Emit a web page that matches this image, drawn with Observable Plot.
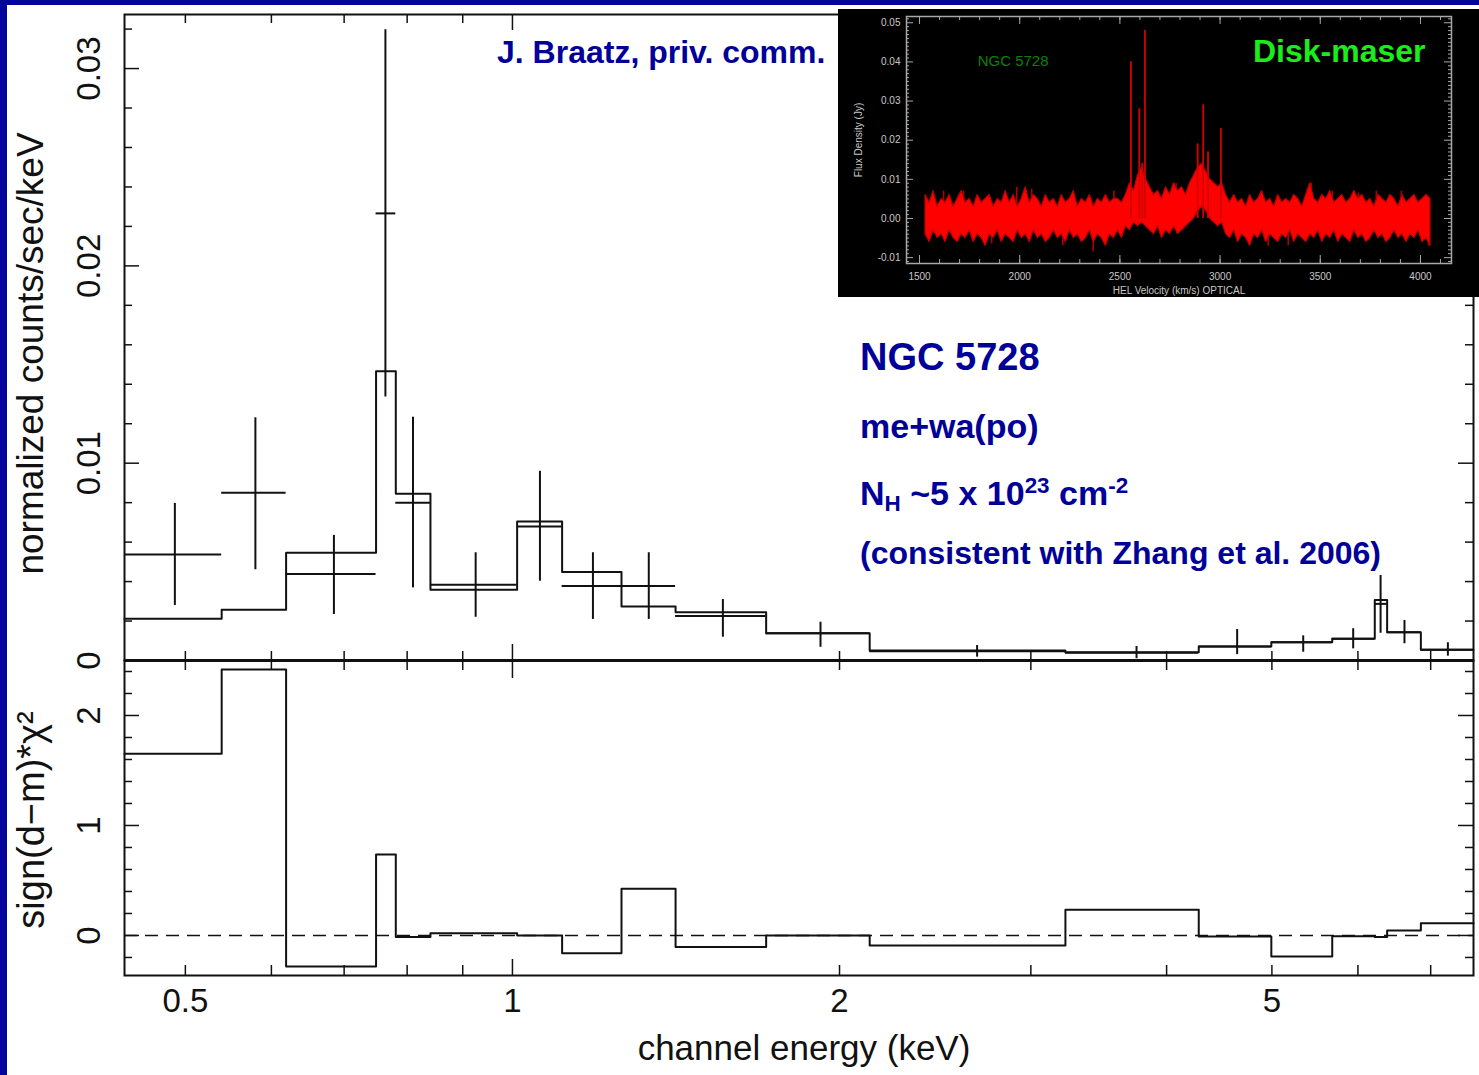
<!DOCTYPE html>
<html><head><meta charset="utf-8">
<script src="https://cdn.jsdelivr.net/npm/d3@7"></script>
<script src="https://cdn.jsdelivr.net/npm/@observablehq/plot@0.6"></script>
<style>
body{margin:0;background:#fff;}
#root{position:relative;width:1479px;height:1075px;overflow:hidden;background:#fff;font-family:"Liberation Sans",Arial,sans-serif;}
#root svg{position:absolute;left:0;top:0;}
#root svg.inset{left:838px;top:9px;}
.ann{position:absolute;color:#000099;font-weight:bold;white-space:nowrap;line-height:1;font-family:"Liberation Sans",Arial,sans-serif;}
.ann sub,.ann sup{font-size:0.66em;line-height:0;}
.ann sub{vertical-align:-0.28em;}
.ann sup{vertical-align:0.52em;}
.strip{position:absolute;background:#05059b;}
</style></head><body><div id="root"></div>
<script>
// ---------- X-ray spectrum data (channel energy in keV) ----------
const binEdges = [0.4395, 0.540, 0.619, 0.749, 0.781, 0.8405, 1.010, 1.111, 1.260, 1.413, 1.712, 2.132, 3.228, 4.282, 4.994, 5.682, 6.218, 6.383, 6.856, 7.665];
const dataE    = [0.489, 0.580, 0.685, 0.764, 0.810, 0.925, 1.060, 1.186, 1.335, 1.562, 1.921, 2.677, 3.753, 4.645, 5.343, 5.940, 6.295, 6.622, 7.26];
const dataRate = [0.00537, 0.0085, 0.00439, 0.02266, 0.00799, 0.00384, 0.00679, 0.00377, 0.00377, 0.00225, 0.00138, 0.00047, 0.00039, 0.00071, 0.00093, 0.0011, 0.00287, 0.00143, 0.00054];
const errLow   = [0.00279, 0.0046, 0.00233, 0.01335, 0.00368, 0.00219, 0.00402, 0.00208, 0.00208, 0.00118, 0.00067, 0.00017, 0.00009, 0.0003, 0.00042, 0.00059, 0.00138, 0.00085, 0.00022];
const errHigh  = [0.00796, 0.0123, 0.00634, 0.03197, 0.01233, 0.00546, 0.00959, 0.00546, 0.00546, 0.00309, 0.00194, 0.00076, 0.00071, 0.00157, 0.00125, 0.00161, 0.00431, 0.00203, 0.0009];
const modelRate = [0.00211, 0.00257, 0.00546, 0.01466, 0.00845, 0.00358, 0.00705, 0.00448, 0.00274, 0.00245, 0.00138, 0.00051, 0.00042, 0.00071, 0.00093, 0.0011, 0.00307, 0.00143, 0.00054];
const residual  = [1.652, 2.418, -0.282, 0.736, -0.015, 0.021, 0.0, -0.161, 0.424, -0.106, 0.0, -0.091, 0.233, -0.01, -0.191, -0.006, -0.015, 0.045, 0.112];

// axis ticks / labels
const xTicks = [0.5, 0.6, 0.7, 0.8, 0.9, 1, 2, 3, 4, 5, 6, 7];
const xMajorTicks = [1];
const xLabelVals = [0.5, 1, 2, 5];
const xLabels = ["0.5", "1", "2", "5"];
const yTopMinor = [0.002, 0.004, 0.006, 0.008, 0.012, 0.014, 0.016, 0.018, 0.022, 0.024, 0.026, 0.028, 0.032];
const yTopMajor = [0, 0.01, 0.02, 0.03];
const yTopLabels = ["0", "0.01", "0.02", "0.03"];
const yBotMinor = [-0.2, 0.2, 0.4, 0.6, 0.8, 1.2, 1.4, 1.6, 1.8, 2.2, 2.4];
const yBotMajor = [0, 1, 2];
const yBotLabels = ["0", "1", "2"];

// ---------- inset: water maser spectrum (velocity km/s, flux Jy) ----------
const specV = [1530,1550,1570,1590,1610,1630,1650,1670,1690,1710,1730,1750,1770,1790,1810,1830,1850,1870,1890,1910,1930,1950,1970,1990,2010,2030,2050,2070,2090,2110,2130,2150,2170,2190,2210,2230,2250,2270,2290,2310,2330,2350,2370,2390,2410,2430,2450,2470,
  2490,2510,2530,2550,2570,2590,2610,2630,2650,2670,2690,2710,2730,2750,2770,2790,2810,2830,2850,2870,2890,2910,2930,2950,2970,2990,3010,3030,3050,3070,3090,3110,
  3130,3150,3170,3190,3210,3230,3250,3270,3290,3310,3330,3350,3370,3390,3410,3430,3450,3470,3490,3510,3530,3550,3570,3590,3610,3630,3650,3670,3690,3710,3730,3750,3770,3790,3810,3830,3850,3870,3890,3910,3930,3950,3970,3990,4010,4030,4050];
const specHi = [0.006,0.004,0.007,0.003,0.005,0.004,0.006,0.003,
  0.005,0.007,0.004,0.005,0.003,0.006,0.004,0.005,
  0.006,0.003,0.005,0.004,0.007,0.004,0.006,0.003,
  0.005,0.008,0.004,0.006,0.005,0.003,0.006,0.004,
  0.005,0.003,0.006,0.004,0.005,0.007,0.003,0.005,
  0.004,0.006,0.003,0.005,0.004,0.006,0.004,0.005,
  0.005,0.004,0.006,0.009,0.007,0.011,0.013,0.010,
  0.008,0.006,0.007,0.005,0.008,0.006,0.009,0.007,
  0.008,0.006,0.009,0.011,0.013,0.014,0.012,0.010,
  0.009,0.008,0.009,0.006,0.004,0.006,0.004,0.005,
  0.003,0.006,0.004,0.005,0.007,0.004,0.005,0.003,
  0.006,0.004,0.005,0.004,0.006,0.005,0.003,0.006,
  0.009,0.005,0.004,0.006,0.005,0.007,0.004,0.005,
  0.006,0.004,0.005,0.007,0.005,0.006,0.004,0.005,
  0.003,0.006,0.005,0.004,0.006,0.005,0.003,0.006,
  0.004,0.005,0.006,0.004,0.005,0.006,0.005];
const specLo = [-0.004,-0.006,-0.003,-0.005,-0.004,-0.006,-0.003,-0.005,
  -0.006,-0.004,-0.005,-0.003,-0.006,-0.004,-0.005,-0.007,
  -0.004,-0.005,-0.003,-0.006,-0.004,-0.005,-0.006,-0.003,
  -0.005,-0.004,-0.006,-0.003,-0.005,-0.004,-0.006,-0.005,
  -0.003,-0.005,-0.004,-0.006,-0.003,-0.005,-0.004,-0.006,
  -0.005,-0.003,-0.006,-0.004,-0.005,-0.007,-0.004,-0.005,
  -0.003,-0.005,-0.002,-0.003,-0.001,-0.002,-0.001,-0.002,
  -0.003,-0.004,-0.002,-0.005,-0.003,-0.004,-0.002,-0.004,
  -0.003,-0.002,-0.001,0.000,0.002,0.003,0.002,0.000,
  -0.001,-0.002,-0.001,-0.004,-0.005,-0.003,-0.006,-0.004,
  -0.005,-0.007,-0.004,-0.005,-0.003,-0.006,-0.004,-0.005,
  -0.006,-0.004,-0.005,-0.003,-0.006,-0.004,-0.005,-0.006,
  -0.004,-0.005,-0.003,-0.006,-0.004,-0.005,-0.003,-0.006,
  -0.004,-0.005,-0.006,-0.003,-0.005,-0.004,-0.006,-0.005,
  -0.003,-0.005,-0.004,-0.006,-0.005,-0.003,-0.005,-0.004,
  -0.006,-0.004,-0.005,-0.003,-0.006,-0.005,-0.007];
const spikeV   = [2555, 2597, 2625, 2916, 3004, 2612, 2888, 2940, 1985, 2470, 3455, 3905, 2367, 1620, 3240, 1720, 2060, 2215, 3560, 3780, 4040, 1860, 2780, 3340, 3690];
const spikeTop = [0.040, 0.028, 0.048, 0.029, 0.023, 0.014, 0.019, 0.017, 0.008, 0.007, 0.009, 0.007, -0.0085, 0.007, -0.007, 0.007, 0.0075, -0.007, 0.007, 0.007, -0.007, -0.0065, 0.009, -0.007, 0.0065];
const insetXMajor = [1500, 2000, 2500, 3000, 3500, 4000];
const insetXMinor = [1500,1600,1700,1800,1900,2000,2100,2200,2300,2400,2500,2600,2700,2800,2900,3000,3100,3200,3300,3400,3500,3600,3700,3800,3900,4000,4100];
const insetYMajor = [-0.01, 0, 0.01, 0.02, 0.03, 0.04, 0.05];
const insetYLabels = ["-0.01", "0.00", "0.01", "0.02", "0.03", "0.04", "0.05"];
const insetYMinor = [-0.011,-0.009,-0.008,-0.007,-0.006,-0.005,-0.004,-0.003,-0.002,-0.001,0.001,0.002,0.003,0.004,0.005,0.006,0.007,0.008,0.009,0.011,0.012,0.013,0.014,0.015,0.016,0.017,0.018,0.019,0.021,0.022,0.023,0.024,0.025,0.026,0.027,0.028,0.029,0.031,0.032,0.033,0.034,0.035,0.036,0.037,0.038,0.039,0.041,0.042,0.043,0.044,0.045,0.046,0.047,0.048,0.049,0.051];

// ---------- derived tables ----------
const points = dataE.map((e, i) => ({e, y: dataRate[i], lo: errLow[i], hi: errHigh[i], x1: binEdges[i], x2: binEdges[i + 1]}));
const modelSteps = binEdges.map((e, i) => ({e, y: modelRate[Math.min(i, modelRate.length - 1)]}));
const residSteps = binEdges.map((e, i) => ({e, y: residual[Math.min(i, residual.length - 1)]}));
const spec = specV.map((v, i) => ({v, hi: specHi[i], lo: specLo[i]}));
const spikes = spikeV.map((v, i) => ({v, top: spikeTop[i]}));
const xMinorTicks = xTicks.filter(t => !xMajorTicks.includes(t));

const W = 1479, H = 1075;
const mL = 124, mR = 6;
const plotW = W - mL - mR;
const INK = "#111";
const FONT = "'Liberation Sans', Arial, sans-serif";
const xScale = {type: "log", domain: [binEdges[0], binEdges[binEdges.length - 1]], axis: null};
const common = {width: W, height: H, marginLeft: mL, marginRight: mR,
  style: {background: "transparent", fontFamily: FONT, overflow: "visible"}};
const rot = {frameAnchor: "left", rotate: -90, textAnchor: "middle", lineAnchor: "middle", fill: INK};

// ---------- upper panel ----------
const topH = 660 - 14;
const upper = Plot.plot({
  ...common, marginTop: 14, marginBottom: H - 660,
  x: xScale,
  y: {domain: [0, 0.03274], axis: null},
  marks: [
    Plot.ruleY([0], {stroke: INK, strokeWidth: 3}),
    Plot.frame({stroke: INK, strokeWidth: 2}),
    Plot.tickY(yTopMinor, {y: d => d, insetRight: plotW - 8, stroke: INK, strokeWidth: 1.5}),
    Plot.tickY(yTopMajor, {y: d => d, insetRight: plotW - 15, stroke: INK, strokeWidth: 1.5}),
    Plot.tickY(yTopMinor, {y: d => d, insetLeft: plotW - 8, stroke: INK, strokeWidth: 1.5}),
    Plot.tickY(yTopMajor, {y: d => d, insetLeft: plotW - 15, stroke: INK, strokeWidth: 1.5}),
    Plot.tickX(xMinorTicks, {x: d => d, insetBottom: topH - 9, stroke: INK, strokeWidth: 1.5}),
    Plot.tickX(xMajorTicks, {x: d => d, insetBottom: topH - 16, stroke: INK, strokeWidth: 1.5}),
    Plot.tickX(xMinorTicks, {x: d => d, insetTop: topH - 9, stroke: INK, strokeWidth: 1.5}),
    Plot.tickX(xMajorTicks, {x: d => d, insetTop: topH - 16, stroke: INK, strokeWidth: 1.5}),
    Plot.line(modelSteps, {x: "e", y: "y", curve: "step-after", stroke: INK, strokeWidth: 2}),
    Plot.ruleY(points, {y: "y", x1: "x1", x2: "x2", stroke: INK, strokeWidth: 2}),
    Plot.ruleX(points, {x: "e", y1: "lo", y2: "hi", stroke: INK, strokeWidth: 2}),
    Plot.text(yTopMajor, {...rot, y: d => d, text: (d, i) => yTopLabels[i], dx: -35, fontSize: 33}),
    Plot.text(["normalized counts/sec/keV"], {...rot, text: d => d, dx: -93, dy: 16, fontSize: 37})
  ]
});

// ---------- lower panel ----------
const botH = 975 - 660;
const lower = Plot.plot({
  ...common, marginTop: 660, marginBottom: H - 975,
  x: xScale,
  y: {domain: [-0.364, 2.5], axis: null},
  marks: [
    Plot.ruleY([0], {stroke: INK, strokeWidth: 1.5, strokeDasharray: "13,8"}),
    Plot.frame({stroke: INK, strokeWidth: 2}),
    Plot.tickY(yBotMinor, {y: d => d, insetRight: plotW - 8, stroke: INK, strokeWidth: 1.5}),
    Plot.tickY(yBotMajor, {y: d => d, insetRight: plotW - 15, stroke: INK, strokeWidth: 1.5}),
    Plot.tickY(yBotMinor, {y: d => d, insetLeft: plotW - 8, stroke: INK, strokeWidth: 1.5}),
    Plot.tickY(yBotMajor, {y: d => d, insetLeft: plotW - 15, stroke: INK, strokeWidth: 1.5}),
    Plot.tickX(xMinorTicks, {x: d => d, insetBottom: botH - 10, stroke: INK, strokeWidth: 1.5}),
    Plot.tickX(xMajorTicks, {x: d => d, insetBottom: botH - 18, stroke: INK, strokeWidth: 1.5}),
    Plot.tickX(xMinorTicks, {x: d => d, insetTop: botH - 10, stroke: INK, strokeWidth: 1.5}),
    Plot.tickX(xMajorTicks, {x: d => d, insetTop: botH - 16, stroke: INK, strokeWidth: 1.5}),
    Plot.line(residSteps, {x: "e", y: "y", curve: "step-after", stroke: INK, strokeWidth: 2}),
    Plot.text(yBotMajor, {...rot, y: d => d, text: (d, i) => yBotLabels[i], dx: -35, fontSize: 33}),
    Plot.text(["sign(d\u2212m)*\u03c7\u00b2"], {...rot, text: d => d, dx: -93, dy: 2, fontSize: 38}),
    Plot.text(xLabelVals, {x: d => d, text: (d, i) => xLabels[i], frameAnchor: "bottom", lineAnchor: "middle", dy: 26, fontSize: 33, fill: INK}),
    Plot.text(["channel energy (keV)"], {text: d => d, frameAnchor: "bottom", lineAnchor: "middle", dx: 5, dy: 73, fontSize: 35, fill: INK})
  ]
});

// ---------- inset ----------
const GREY = "#a8a8a8";
const LBL = "#c8c8c8";
const iW = 641, iH = 288, iL = 68, iR = 28, iT = 7, iB = 34;
const ipW = iW - iL - iR, ipH = iH - iT - iB;
const inset = Plot.plot({
  width: iW, height: iH, marginLeft: iL, marginRight: iR, marginTop: iT, marginBottom: iB,
  style: {background: "#000", fontFamily: FONT, overflow: "visible"},
  x: {domain: [1435, 4155], axis: null},
  y: {domain: [-0.0115, 0.0516], axis: null},
  marks: [
    Plot.ruleX(spikes, {x: "v", y1: 0, y2: "top", stroke: "#b00000", strokeWidth: 1.6}),
    Plot.areaY(spec, {x: "v", y1: "lo", y2: "hi", fill: "#ff0000", stroke: "#c00000", strokeWidth: 1.2, curve: "linear"}),
    Plot.ruleX(spikes.filter(s => s.top > 0.01), {x: "v", y1: 0, y2: "top", stroke: "#d00000", strokeWidth: 1.6}),
    Plot.frame({stroke: GREY, strokeWidth: 1.5}),
    Plot.tickY(insetYMinor, {y: d => d, insetRight: ipW - 3, stroke: GREY}),
    Plot.tickY(insetYMajor, {y: d => d, insetRight: ipW - 7, stroke: GREY}),
    Plot.tickY(insetYMinor, {y: d => d, insetLeft: ipW - 3, stroke: GREY}),
    Plot.tickY(insetYMajor, {y: d => d, insetLeft: ipW - 7, stroke: GREY}),
    Plot.tickX(insetXMinor, {x: d => d, insetBottom: ipH - 4, stroke: GREY}),
    Plot.tickX(insetXMajor, {x: d => d, insetBottom: ipH - 8, stroke: GREY}),
    Plot.tickX(insetXMinor, {x: d => d, insetTop: ipH - 4, stroke: GREY}),
    Plot.tickX(insetXMajor, {x: d => d, insetTop: ipH - 8, stroke: GREY}),
    Plot.text(insetYMajor, {y: d => d, text: (d, i) => insetYLabels[i], frameAnchor: "left", lineAnchor: "middle", dx: -6, textAnchor: "end", fontSize: 10, fill: LBL}),
    Plot.text(insetXMajor, {x: d => d, text: d => String(d), frameAnchor: "bottom", lineAnchor: "middle", dy: 13, fontSize: 10, fill: LBL}),
    Plot.text(["Flux Density (Jy)"], {text: d => d, frameAnchor: "left", textAnchor: "middle", lineAnchor: "middle", dx: -48, rotate: -90, fontSize: 10, fill: LBL}),
    Plot.text(["HEL Velocity (km/s) OPTICAL"], {text: d => d, frameAnchor: "bottom", lineAnchor: "middle", dy: 27, fontSize: 10, fill: LBL}),
    Plot.text(["NGC 5728"], {text: d => d, x: 1790, y: 0.0401, textAnchor: "start", fontSize: 15, fill: "#0c800c"}),
    Plot.text(["Disk-maser"], {text: d => d, frameAnchor: "top-right", dx: -26, dy: 35, textAnchor: "end", lineAnchor: "middle", fontSize: 32, fontWeight: "bold", fill: "#1aee1a"})
  ]
});
inset.setAttribute("class", (inset.getAttribute("class") || "") + " inset");

const root = document.getElementById("root");
root.append(upper, lower, inset);

// blue slide border
for (const [l, t, w, h] of [[0, 0, 7, 1075], [0, 0, 1479, 5]]) {
  const d = document.createElement("div");
  d.className = "strip";
  Object.assign(d.style, {left: l + "px", top: t + "px", width: w + "px", height: h + "px"});
  root.append(d);
}

// annotations
const notes = [
  {html: "J. Braatz, priv. comm.", left: 497, base: 63, fs: 32},
  {html: "NGC 5728", left: 860, base: 370, fs: 38},
  {html: "me+wa(po)", left: 860, base: 438, fs: 34},
  {html: "N<sub>H</sub> ~5 x 10<sup>23</sup> cm<sup>-2</sup>", left: 860, base: 505, fs: 34},
  {html: "(consistent with Zhang et al. 2006)", left: 860, base: 564, fs: 32}
];
for (const n of notes) {
  const d = document.createElement("div");
  d.className = "ann";
  d.innerHTML = n.html;
  Object.assign(d.style, {left: n.left + "px", top: (n.base - 0.8465 * n.fs) + "px", fontSize: n.fs + "px"});
  root.append(d);
}
</script></body></html>
